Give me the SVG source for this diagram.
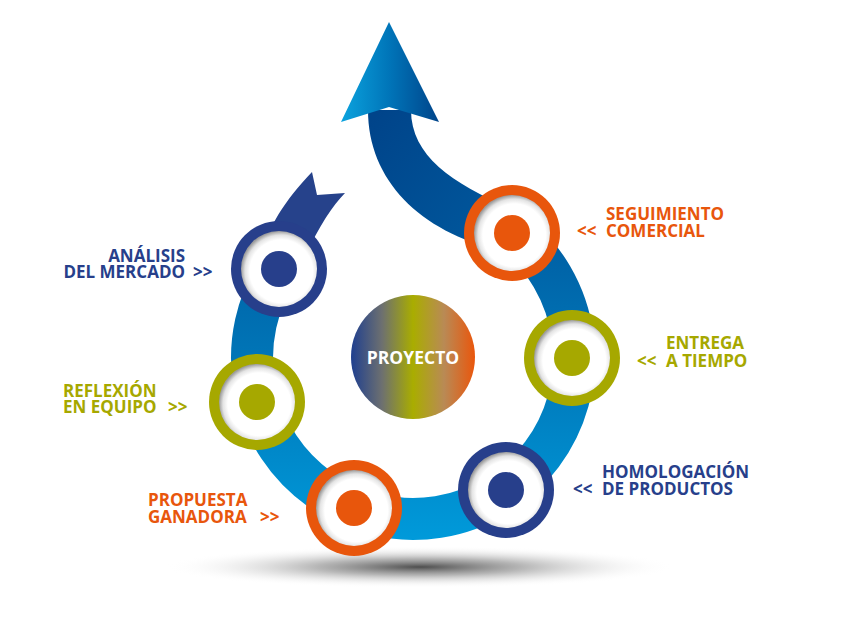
<svg xmlns="http://www.w3.org/2000/svg" width="850" height="635" viewBox="0 0 850 635">
<defs>
<linearGradient id="ringGrad" gradientUnits="userSpaceOnUse" x1="0" y1="190" x2="0" y2="545">
<stop offset="0" stop-color="#00569c"/>
<stop offset="0.45" stop-color="#0074b6"/>
<stop offset="1" stop-color="#009bdb"/>
</linearGradient>
<linearGradient id="shaftGrad" gradientUnits="userSpaceOnUse" x1="380" y1="110" x2="520" y2="240">
<stop offset="0" stop-color="#00448a"/>
<stop offset="1" stop-color="#005a9f"/>
</linearGradient>
<linearGradient id="headGrad" gradientUnits="userSpaceOnUse" x1="341" y1="0" x2="439" y2="0">
<stop offset="0" stop-color="#0ba3de"/>
<stop offset="0.5" stop-color="#0074b8"/>
<stop offset="1" stop-color="#00448a"/>
</linearGradient>
<linearGradient id="centerGrad" x1="0" y1="0" x2="1" y2="0">
<stop offset="0" stop-color="#1f3f8f"/>
<stop offset="0.25" stop-color="#6d7070"/>
<stop offset="0.5" stop-color="#a9ad00"/>
<stop offset="0.75" stop-color="#b98a55"/>
<stop offset="1" stop-color="#ea560c"/>
</linearGradient>
<radialGradient id="inset" cx="0.53" cy="0.53" r="0.53">
<stop offset="0" stop-color="#ffffff"/>
<stop offset="0.78" stop-color="#ffffff"/>
<stop offset="0.9" stop-color="#e4e4e4"/>
<stop offset="1" stop-color="#9c9c9c"/>
</radialGradient>
<radialGradient id="shadow" cx="0.5" cy="0.5" r="0.5">
<stop offset="0" stop-color="#3a3a3a" stop-opacity="0.9"/>
<stop offset="0.4" stop-color="#7a7a7a" stop-opacity="0.55"/>
<stop offset="1" stop-color="#ffffff" stop-opacity="0"/>
</radialGradient>
<style>
.lbl{font-family:"Open Sans","Noto Sans","DejaVu Sans",sans-serif;font-weight:700;font-size:17px}
.orange{fill:#e8560c}
.navy{fill:#273f8b}
.olive{fill:#a6a800}
.white{fill:url(#inset)}
</style>
</defs>
<rect width="850" height="635" fill="#ffffff"/>
<ellipse cx="420" cy="567" rx="255" ry="21" fill="url(#shadow)"/>
<g id="connectors">
<path d="M278.9,268.9 A161,161 0 1 0 513,231.8" fill="none" stroke="url(#ringGrad)" stroke-width="42"/>
<path d="M261,257 C266,230 285,200 312,172 L317,195 L345,193 C330,208 310,240 296,281 Z" fill="#26428b"/>
<path d="M368,110 L411,110 C411,160 460,188 526,215 L500,250 C420,232 368,180 368,110 Z" fill="url(#shaftGrad)"/>
<path d="M389,22 L439,122 L389,107 L341,122 Z" fill="url(#headGrad)"/>
</g>
<g id="proyecto">
<circle cx="413" cy="357" r="62" fill="url(#centerGrad)"/>
<text x="413" y="364" class="lbl" style="font-size:17.5px" fill="#ffffff" text-anchor="middle">PROYECTO</text>
</g>
<g id="analisis">
<circle cx="279" cy="269" r="48" class="navy"/>
<circle cx="279" cy="269" r="38" class="white"/>
<circle cx="279" cy="269" r="18" class="navy"/>
<text x="185" y="262" class="lbl navy" text-anchor="end">ANÁLISIS</text>
<text x="185" y="278" class="lbl navy" text-anchor="end">DEL MERCADO</text>
<text x="193" y="278" class="lbl navy">&gt;&gt;</text>
</g>
<g id="reflexion">
<circle cx="257" cy="402" r="48" class="olive"/>
<circle cx="257" cy="402" r="38" class="white"/>
<circle cx="257" cy="402" r="18" class="olive"/>
<text x="63" y="397" class="lbl olive">REFLEXIÓN</text>
<text x="63" y="413" class="lbl olive">EN EQUIPO</text>
<text x="168" y="413" class="lbl olive">&gt;&gt;</text>
</g>
<g id="propuesta">
<circle cx="354" cy="508" r="48" class="orange"/>
<circle cx="354" cy="508" r="38" class="white"/>
<circle cx="354" cy="508" r="18" class="orange"/>
<text x="148" y="506" class="lbl orange">PROPUESTA</text>
<text x="148" y="523" class="lbl orange">GANADORA</text>
<text x="260" y="523" class="lbl orange">&gt;&gt;</text>
</g>
<g id="homologacion">
<circle cx="506" cy="490" r="48" class="navy"/>
<circle cx="506" cy="490" r="38" class="white"/>
<circle cx="506" cy="490" r="18" class="navy"/>
<text x="602" y="478" class="lbl navy">HOMOLOGACIÓN</text>
<text x="573" y="495" class="lbl navy">&lt;&lt;</text>
<text x="602" y="495" class="lbl navy">DE PRODUCTOS</text>
</g>
<g id="entrega">
<circle cx="572" cy="358" r="48" class="olive"/>
<circle cx="572" cy="358" r="38" class="white"/>
<circle cx="572" cy="358" r="18" class="olive"/>
<text x="666" y="349" class="lbl olive">ENTREGA</text>
<text x="637" y="367" class="lbl olive">&lt;&lt;</text>
<text x="666" y="367" class="lbl olive">A TIEMPO</text>
</g>
<g id="seguimiento">
<circle cx="512" cy="233" r="48" class="orange"/>
<circle cx="512" cy="233" r="38" class="white"/>
<circle cx="512" cy="233" r="18" class="orange"/>
<text x="606" y="220" class="lbl orange">SEGUIMIENTO</text>
<text x="577" y="237" class="lbl orange">&lt;&lt;</text>
<text x="606" y="237" class="lbl orange">COMERCIAL</text>
</g>
</svg>
